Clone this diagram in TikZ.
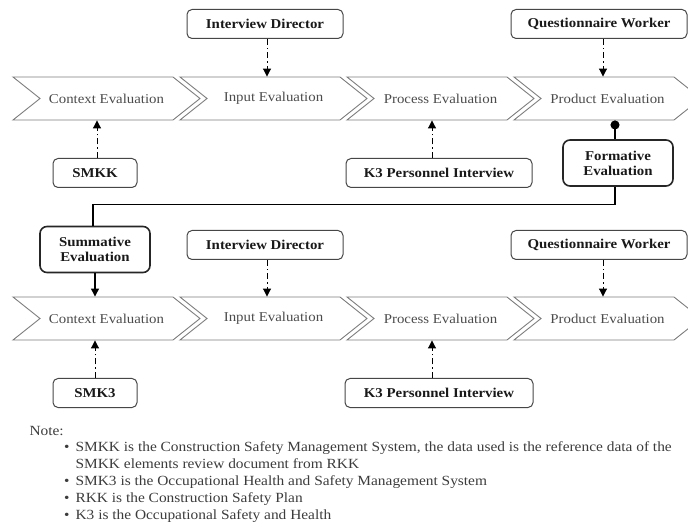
\documentclass[tikz,border=0pt]{standalone}
\usepackage{fontspec}
\setmainfont{Liberation Serif}[FakeStretch=1.1]
\usetikzlibrary{shapes.symbols,arrows.meta}
\definecolor{chev_line}{RGB}{125,125,125}
\definecolor{chev_text}{RGB}{75,75,75}
\definecolor{box_line}{RGB}{70,70,70}
\definecolor{note_text}{RGB}{60,60,60}
\tikzstyle{chev}=[signal,signal from=west,signal to=east,signal pointer angle=77,
  draw=chev_line,line width=0.9pt,text=chev_text,minimum width=187pt,
  minimum height=43pt,inner sep=0pt,font=\fontsize{13.5}{17}\selectfont]
\tikzstyle{src}=[rectangle,rounded corners=5pt,draw=box_line,line width=1pt,
  minimum height=29pt,inner sep=0pt,text=black!90,font=\fontsize{13.5}{17}\selectfont\bfseries]
\tikzstyle{evb}=[rectangle,rounded corners=7pt,draw=black!85,line width=1.6pt,
  minimum width=110pt,minimum height=46pt,inner sep=0pt,align=center,
  text=black!90,font=\fontsize{13.5}{15}\selectfont\bfseries]
\tikzstyle{dd}=[line width=1pt,dash pattern=on 6pt off 3pt on 1.5pt off 3pt,
  -{Triangle[width=8pt,length=8pt]}]

\begin{document}
\begin{tikzpicture}[x=1pt,y=-1pt]
        \useasboundingbox (0,0) rectangle (688,526);
        \clip (0,0) rectangle (688,526);
        \node [style=chev] (ctxA) at (106.5,98.5) {Context Evaluation};
        \node [style=chev] (inpA) at (273.5,98.5) {Input Evaluation};
        \node [style=chev] (proA) at (440.5,98.5) {Process Evaluation};
        \node [style=chev] (prdA) at (607.5,98.5) {Product Evaluation};
        \node [style=chev] (ctxB) at (106.5,318.5) {Context Evaluation};
        \node [style=chev] (inpB) at (273.5,318.5) {Input Evaluation};
        \node [style=chev] (proB) at (440.5,318.5) {Process Evaluation};
        \node [style=chev] (prdB) at (607.5,318.5) {Product Evaluation};
        \node [style=src,minimum width=156pt] (dirA) at (265,24) {Interview Director};
        \node [style=src,minimum width=176pt] (qwA) at (599,24) {Questionnaire Worker};
        \node [style=src,minimum width=84pt] (smkk) at (95,173) {SMKK};
        \node [style=src,minimum width=186pt] (k3A) at (439,173) {K3 Personnel Interview};
        \node [style=evb] (form) at (618,163) {Formative\\Evaluation};
        \node [style=evb] (summ) at (95,249.5) {Summative\\Evaluation};
        \node [style=src,minimum width=156pt] (dirB) at (265,245) {Interview Director};
        \node [style=src,minimum width=176pt] (qwB) at (599,245) {Questionnaire Worker};
        \node [style=src,minimum width=84pt] (smk3) at (95,393) {SMK3};
        \node [style=src,minimum width=188pt] (k3B) at (439,393) {K3 Personnel Interview};
        \draw [style=dd] ([xshift=2pt]dirA.south) to ([xshift=2pt]dirA.south |- inpA.north);
        \draw [style=dd] ([xshift=4pt]qwA.south) to ([xshift=4pt]qwA.south |- prdA.north);
        \draw [style=dd] ([xshift=2pt]smkk.north) to ([xshift=2pt]smkk.north |- ctxA.south);
        \draw [style=dd] ([xshift=-7pt]k3A.north) to ([xshift=-7pt]k3A.north |- proA.south);
        \draw [line width=1.3pt,{Circle[length=9pt]}-] ([xshift=-3pt]form.north |- prdA.south) to ([xshift=-3pt]form.north);
        \draw [line width=1.3pt] ([xshift=-3pt]form.south) -- ++(0,18) -| ([xshift=-2pt]summ.north);
        \draw [line width=1.3pt,-{Triangle[width=8pt,length=8pt]}] (summ.south) to (summ.south |- ctxB.north);
        \draw [style=dd] ([xshift=2pt]dirB.south) to ([xshift=2pt]dirB.south |- inpB.north);
        \draw [style=dd] ([xshift=4pt]qwB.south) to ([xshift=4pt]qwB.south |- prdB.north);
        \draw [style=dd] (smk3.north) to (smk3.north |- ctxB.south);
        \draw [style=dd] ([xshift=-7pt]k3B.north) to ([xshift=-7pt]k3B.north |- proB.south);
        \node [anchor=west,text=note_text,font=\fontsize{14}{17}\selectfont] (note) at (26,431) {Note:};
        \node [anchor=north west,inner sep=0pt,text=note_text,font=\fontsize{14}{17}\selectfont] (notes) at (64,439) {%
          \begin{tabular}{@{}l@{\hspace{6pt}}l@{}}
          \textbullet & SMKK is the Construction Safety Management System, the data used is the reference data of the\\
           & SMKK elements review document from RKK\\
          \textbullet & SMK3 is the Occupational Health and Safety Management System\\
          \textbullet & RKK is the Construction Safety Plan\\
          \textbullet & K3 is the Occupational Safety and Health
          \end{tabular}};
    \end{tikzpicture}
\end{document}
